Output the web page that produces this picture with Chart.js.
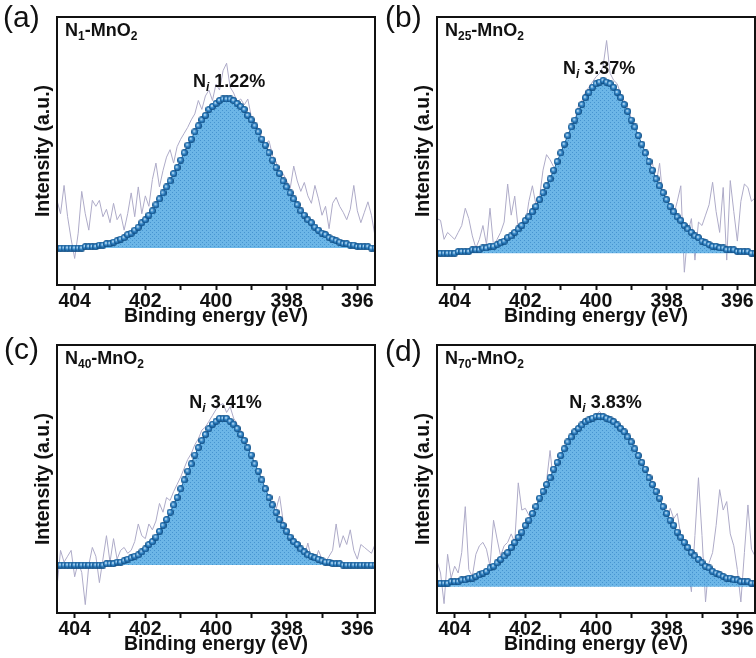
<!DOCTYPE html>
<html>
<head>
<meta charset="utf-8">
<script src="https://cdn.jsdelivr.net/npm/chart.js@4.4.0/dist/chart.umd.min.js"></script>
<style>
    html, body { margin: 0; padding: 0; background: #fff; overflow: hidden; }
    body { width: 756px; height: 658px; position: relative; }
    canvas { position: absolute; }
    #panelA { left: 0; top: 0; }
    #panelB { left: 380px; top: 0; }
    #panelC { left: 0; top: 328px; }
    #panelD { left: 380px; top: 328px; }
</style>
</head>
<body>
<canvas id="panelA" width="380" height="330"></canvas>
<canvas id="panelB" width="380" height="330"></canvas>
<canvas id="panelC" width="380" height="330"></canvas>
<canvas id="panelD" width="380" height="330"></canvas>
<script>
// Binding energy grid (eV), left to right as plotted
const energy = [
    404.5, 404.4, 404.3, 404.2, 404.1, 404.0, 403.9, 403.8, 403.7, 403.6,
    403.5, 403.4, 403.3, 403.2, 403.1, 403.0, 402.9, 402.8, 402.7, 402.6,
    402.5, 402.4, 402.3, 402.2, 402.1, 402.0, 401.9, 401.8, 401.7, 401.6,
    401.5, 401.4, 401.3, 401.2, 401.1, 401.0, 400.9, 400.8, 400.7, 400.6,
    400.5, 400.4, 400.3, 400.2, 400.1, 400.0, 399.9, 399.8, 399.7, 399.6,
    399.5, 399.4, 399.3, 399.2, 399.1, 399.0, 398.9, 398.8, 398.7, 398.6,
    398.5, 398.4, 398.3, 398.2, 398.1, 398.0, 397.9, 397.8, 397.7, 397.6,
    397.5, 397.4, 397.3, 397.2, 397.1, 397.0, 396.9, 396.8, 396.7, 396.6,
    396.5, 396.4, 396.3, 396.2, 396.1, 396.0, 395.9, 395.8, 395.7, 395.6,
    395.5
];
const xTicks = [404, 403, 402, 401, 400, 399, 398, 397, 396];

// (a) N1-MnO2
const rawA = [
    32, 23, 42, 21, 6, -7, 10, 38, 23, 12,
    32, 28, 32, 21, 26, 17, 30, 19, 23, 12,
    23, 37, 21, 41, 23, 35, 28, 46, 57, 41,
    52, 61, 66, 57, 68, 73, 77, 81, 86, 90,
    99, 93, 102, 106, 99, 110, 106, 119, 124, 108,
    104, 98, 100, 96, 100, 88, 84, 80, 74, 70,
    72, 62, 58, 48, 50, 45, 40, 55, 45, 38,
    44, 35, 30, 42, 33, 22, 28, 13, 30, 34,
    28, 24, 19, 26, 42, 25, 17, 24, 31, 22,
    8
];
const fitA = [
    0, 0, 0, 0, 0, 0, 0, 0, 1, 1,
    1, 1, 2, 2, 3, 3, 4, 5, 6, 7,
    9, 10, 12, 14, 17, 19, 22, 25, 29, 33,
    37, 41, 45, 50, 54, 59, 64, 69, 73, 78,
    82, 86, 89, 93, 95, 97, 99, 100, 100, 100,
    99, 97, 95, 93, 89, 86, 82, 78, 73, 69,
    64, 59, 54, 50, 45, 41, 37, 33, 29, 25,
    22, 19, 17, 14, 12, 10, 9, 7, 6, 5,
    4, 3, 3, 2, 2, 1, 1, 1, 1, 0,
    0
];

// (b) N25-MnO2
const rawB = [
    20, 19, 8, 12, 10, 8, 12, 16, 26, 20,
    10, 3, 8, 16, 5, 26, 4, 8, 12, 18,
    40, 22, 33, 14, 18, 16, 30, 39, 28, 32,
    48, 57, 54, 50, 46, 55, 60, 65, 72, 76,
    85, 88, 93, 96, 99, 102, 104, 108, 123, 104,
    100, 98, 92, 88, 84, 78, 72, 64, 58, 55,
    50, 52, 40, 52, 30, 26, 24, 22, 30, 39,
    -11, 12, 20, -4, 18, 16, 22, 28, 41, 24,
    12, 38, -4, 42, 24, 7, 30, 40, 38, 30,
    32
];
const fitB = [
    0, 0, 0, 0, 0, 0, 1, 1, 1, 1,
    2, 2, 2, 3, 3, 4, 4, 5, 6, 7,
    9, 10, 12, 14, 16, 19, 21, 24, 27, 31,
    35, 39, 43, 48, 53, 58, 63, 68, 73, 77,
    82, 86, 90, 93, 96, 98, 99, 100, 99, 98,
    96, 93, 90, 86, 82, 77, 73, 68, 63, 58,
    53, 48, 43, 39, 35, 31, 27, 24, 21, 19,
    16, 14, 12, 10, 9, 7, 6, 5, 4, 4,
    3, 3, 2, 2, 2, 1, 1, 1, 1, 0,
    0
];

// (c) N40-MnO2
const rawC = [
    -15, 10, 2, 6, 10, -8, 2, -5, -27, 0,
    12, 6, -12, 4, 20, 2, 18, 4, 10, 12,
    8, 10, 16, 28, 20, 18, 28, 24, 30, 42,
    36, 46, 44, 50, 55, 60, 66, 72, 76, 82,
    86, 92, 94, 98, 102, 106, 109, 110, 104, 108,
    100, 96, 92, 86, 80, 74, 66, 60, 55, 50,
    42, 36, 38, 47, 30, 24, 20, 16, 8, 10,
    6, 15, 4, 2, 10, 4, 2, 6, 10, 28,
    12, 20, 14, 24, 10, 4, 14, 12, 10, 8,
    14
];
const fitC = [
    0, 0, 0, 0, 0, 0, 0, 0, 0, 0,
    0, 0, 0, 0, 1, 1, 1, 2, 2, 3,
    4, 5, 6, 7, 9, 11, 14, 16, 19, 23,
    27, 31, 36, 41, 46, 52, 58, 64, 69, 75,
    80, 85, 89, 93, 96, 98, 100, 100, 100, 98,
    96, 93, 89, 85, 80, 75, 69, 64, 58, 52,
    46, 41, 36, 31, 27, 23, 19, 16, 14, 11,
    9, 7, 6, 5, 4, 3, 2, 2, 1, 1,
    1, 0, 0, 0, 0, 0, 0, 0, 0, 0,
    0
];

// (d) N70-MnO2
const rawD = [
    15, 8, -10, 19, 5, 12, 8, 20, 47, 10,
    6, 19, 24, 26, 22, 12, 39, 28, 18, 24,
    26, 31, 26, 61, 45, 46, 42, 38, 44, 50,
    56, 62, 80, 60, 72, 70, 76, 80, 84, 88,
    92, 95, 97, 99, 100, 101, 103, 100, 98, 96,
    93, 90, 86, 82, 78, 74, 70, 66, 60, 56,
    52, 48, 44, 40, 42, 38, 46, 40, 43, 30,
    20, 12, -3, 30, 64, 30, -9, 14, 20, 36,
    57, 45, 50, 31, 24, 10, -9, 20, 48, 22,
    18
];
const fitD = [
    2, 2, 2, 2, 3, 3, 3, 4, 4, 5,
    5, 6, 7, 8, 9, 11, 12, 14, 16, 18,
    20, 23, 26, 29, 32, 36, 39, 43, 47, 52,
    56, 60, 64, 69, 73, 77, 81, 85, 88, 91,
    93, 95, 97, 98, 99, 100, 100, 100, 99, 98,
    97, 95, 93, 91, 88, 85, 81, 77, 73, 69,
    64, 60, 56, 52, 47, 43, 39, 36, 32, 29,
    26, 23, 20, 18, 16, 14, 12, 11, 9, 8,
    7, 6, 5, 5, 4, 4, 3, 3, 3, 2,
    2
];

const FONT = '"Liberation Sans", Arial, sans-serif';
const INK = '#111';

// Small shaded ball used as the marker of the fitted curve
function makeSphere() {
    const c = document.createElement('canvas');
    c.width = 7;
    c.height = 7;
    const g = c.getContext('2d');
    const grad = g.createRadialGradient(2.8, 2.8, 0.1, 3.5, 3.5, 3.5);
    grad.addColorStop(0, '#eef7ff');
    grad.addColorStop(0.35, '#4c9bd6');
    grad.addColorStop(0.75, '#1c67a8');
    grad.addColorStop(1, '#0b4578');
    g.fillStyle = grad;
    g.beginPath();
    g.arc(3.5, 3.5, 3.5, 0, Math.PI * 2);
    g.fill();
    return c;
}

// Light blue fill with a fine dot texture
function makeStipple() {
    const c = document.createElement('canvas');
    c.width = 4;
    c.height = 4;
    const g = c.getContext('2d');
    g.fillStyle = 'rgba(92,174,228,0.9)';
    g.fillRect(0, 0, 4, 4);
    g.fillStyle = 'rgba(40,120,190,0.55)';
    g.fillRect(0, 0, 1, 1);
    g.fillRect(2, 2, 1, 1);
    return g.createPattern(c, 'repeat');
}

const sphere = makeSphere();
const stipple = makeStipple();

const toPoints = (vals) => energy.map((e, i) => ({ x: e, y: vals[i] }));

// Draw a run of text pieces, some as subscripts
function drawRuns(ctx, runs, x, y, align) {
    const fonts = {
        main: 'bold 18px ' + FONT,
        sub: 'bold 12px ' + FONT,
        isub: 'italic bold 12px ' + FONT
    };
    let total = 0;
    runs.forEach(([t, k]) => {
        ctx.font = fonts[k];
        total += ctx.measureText(t).width;
    });
    let cx = align === 'center' ? x - total / 2 : x;
    runs.forEach(([t, k]) => {
        ctx.font = fonts[k];
        ctx.fillText(t, cx, k === 'main' ? y : y + 4);
        cx += ctx.measureText(t).width;
    });
}

// Frame, panel letter, sample name and peak label
const panelText = {
    id: 'panelText',
    afterDraw(chart, args, opts) {
        const { ctx, chartArea: a, scales } = chart;
        ctx.save();
        ctx.lineWidth = 2;
        ctx.strokeStyle = INK;
        ctx.strokeRect(a.left, a.top, a.right - a.left, a.bottom - a.top);

        ctx.fillStyle = INK;
        ctx.textAlign = 'left';
        ctx.textBaseline = 'alphabetic';
        ctx.font = '30px ' + FONT;
        ctx.fillText(opts.tag, opts.tagX, opts.tagY);

        drawRuns(ctx, [['N', 'main'], [opts.n, 'sub'], ['-MnO', 'main'], ['2', 'sub']],
            a.left + 8, a.top + 19, 'left');

        const px = scales.x.getPixelForValue(opts.peak[0]);
        const py = scales.y.getPixelForValue(opts.peak[1]);
        drawRuns(ctx, [['N', 'main'], ['i', 'isub'], [' ' + opts.pct, 'main']], px, py, 'center');
        ctx.restore();
    }
};

function makePanel(id, raw, fit, yMin, yMax, text) {
    const axisFont = { family: FONT, size: 19.5, weight: 'bold' };
    new Chart(document.getElementById(id), {
        type: 'line',
        data: {
            datasets: [
                {
                    label: 'raw',
                    data: toPoints(raw),
                    borderColor: '#aeabc8',
                    borderWidth: 1,
                    pointRadius: 0,
                    fill: false,
                    order: 3
                },
                {
                    label: 'area',
                    data: toPoints(fit),
                    borderColor: 'rgba(0,0,0,0)',
                    borderWidth: 1,
                    pointRadius: 0,
                    fill: 'origin',
                    backgroundColor: stipple,
                    order: 2
                },
                {
                    label: 'fit',
                    data: toPoints(fit),
                    borderColor: '#1b64a2',
                    borderWidth: 1,
                    pointStyle: sphere,
                    pointRadius: 3.5,
                    fill: false,
                    order: 1
                }
            ]
        },
        options: {
            responsive: false,
            animation: false,
            events: [],
            layout: { padding: { top: 17, right: 2, left: 0, bottom: 0 } },
            plugins: {
                legend: { display: false },
                tooltip: { enabled: false },
                panelText: text
            },
            scales: {
                x: {
                    type: 'linear',
                    reverse: true,
                    min: 395.5,
                    max: 404.5,
                    afterBuildTicks: (s) => { s.ticks = xTicks.map(v => ({ value: v })); },
                    afterFit: (s) => { s.height = 45; },
                    ticks: {
                        callback: (v) => (v % 2 === 0 ? v : ''),
                        font: axisFont,
                        color: INK,
                        padding: 0,
                        maxRotation: 0,
                        autoSkip: false
                    },
                    grid: {
                        display: true,
                        drawOnChartArea: false,
                        drawTicks: true,
                        tickLength: 5,
                        tickWidth: 2,
                        tickColor: INK
                    },
                    border: { display: false },
                    title: {
                        display: true,
                        text: 'Binding energy (eV)',
                        font: axisFont,
                        color: INK,
                        padding: { top: 0, bottom: 2 }
                    }
                },
                y: {
                    min: yMin,
                    max: yMax,
                    afterFit: (s) => { s.width = 57; },
                    ticks: { display: false },
                    grid: { display: false },
                    border: { display: false },
                    title: {
                        display: true,
                        text: 'Intensity (a.u.)',
                        font: axisFont,
                        color: INK,
                        padding: { top: 32, bottom: 0 }
                    }
                }
            }
        },
        plugins: [panelText]
    });
}

makePanel('panelA', rawA, fitA, -24.8, 155,
    { tag: '(a)', tagX: 3, tagY: 27, n: '1', pct: '1.22%', peak: [399.63, 108] });
makePanel('panelB', rawB, fitB, -18.4, 136.6,
    { tag: '(b)', tagX: 5, tagY: 27, n: '25', pct: '3.37%', peak: [399.91, 103.5] });
makePanel('panelC', rawC, fitC, -32.7, 150,
    { tag: '(c)', tagX: 4, tagY: 31, n: '40', pct: '3.41%', peak: [399.73, 107] });
makePanel('panelD', rawD, fitD, -15.5, 142,
    { tag: '(d)', tagX: 5, tagY: 33, n: '70', pct: '3.83%', peak: [399.73, 105] });
</script>
</body>
</html>
